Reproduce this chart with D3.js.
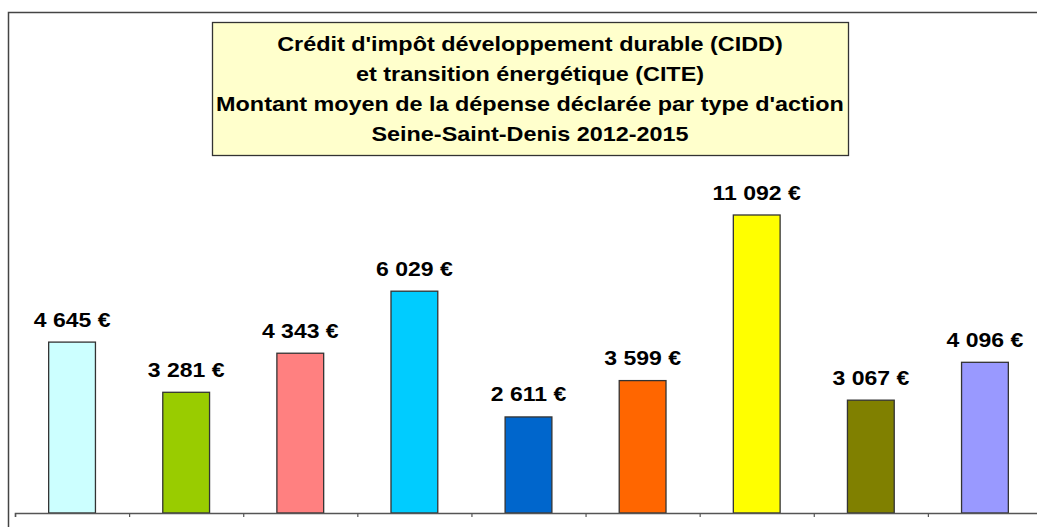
<!DOCTYPE html>
<html>
<head>
<meta charset="utf-8">
<script src="https://cdn.jsdelivr.net/npm/d3@7"></script>
<style>
  html, body { margin: 0; padding: 0; background: #fff; }
  svg { display: block; font-family: "Liberation Sans", Arial, sans-serif; }
</style>
</head>
<body>
<svg id="chart"></svg>
<script>
// data
let categories = ["Action 1", "Action 2", "Action 3", "Action 4", "Action 5", "Action 6", "Action 7", "Action 8", "Action 9"];
let values = [4645, 3281, 4343, 6029, 2611, 3599, 11092, 3067, 4096];
let colors = ["#CCFFFF", "#99CC00", "#FF8080", "#00CCFF", "#0066CC", "#FF6600", "#FFFF00", "#808000", "#9999FF"];
let titleLines = [
  "Crédit d'impôt développement durable (CIDD)",
  "et transition énergétique (CITE)",
  "Montant moyen de la dépense déclarée par type d'action",
  "Seine-Saint-Denis 2012-2015"
];

let width = 1037, height = 527;
let stretch = 1.15;      // value labels look wider than plain Arial
let titleStretch = 1.2;

let svg = d3.select("#chart").attr("width", width).attr("height", height);

// outer frame (cropped on right / bottom)
svg.append("path")
  .attr("d", "M8.5," + height + "V12.5H" + width)
  .attr("fill", "none")
  .attr("stroke", "#444")
  .attr("stroke-width", 1.5);

let x = d3.scaleBand()
  .domain(categories)
  .range([15, 1042])
  .paddingInner(0.59)
  .paddingOuter(0.295);

let y = d3.scaleLinear()
  .domain([0, 8100])
  .range([513, 215])
  .clamp(true);

// bars
svg.append("g")
  .selectAll("rect")
  .data(values)
  .enter().append("rect")
  .attr("x", (d, i) => x(categories[i]))
  .attr("y", d => y(d))
  .attr("width", x.bandwidth())
  .attr("height", d => y(0) - y(d))
  .attr("fill", (d, i) => colors[i])
  .attr("stroke", "#333")
  .attr("stroke-width", 1.3);

// value labels
svg.append("g")
  .selectAll("text")
  .data(values)
  .enter().append("text")
  .attr("transform", (d, i) => "translate(" + (x(categories[i]) + x.bandwidth() / 2) + "," + (y(d) - 15.5) + ") scale(" + stretch + ",1)")
  .attr("text-anchor", "middle")
  .attr("font-size", "20px")
  .attr("font-weight", "bold")
  .attr("fill", "#000")
  .text(d => d3.format(",")(d).replace(/,/g, " ") + " €");

// x axis: ticks between categories
let edges = d3.scaleLinear().domain([0, categories.length]).range([15, 1042]);
let xAxis = svg.append("g")
  .attr("transform", "translate(0,513)")
  .call(d3.axisBottom(edges).ticks(categories.length).tickSize(4).tickFormat(""));
xAxis.select(".domain").attr("stroke", "#555").attr("stroke-width", 1.5);
xAxis.selectAll(".tick line").attr("stroke", "#555").attr("stroke-width", 1.2);

// title box
let title = svg.append("g");
title.append("rect")
  .attr("x", 212.5).attr("y", 22.5)
  .attr("width", 636).attr("height", 133)
  .attr("fill", "#FFFFCC")
  .attr("stroke", "#333")
  .attr("stroke-width", 1.3);

title.selectAll("text")
  .data(titleLines)
  .enter().append("text")
  .attr("transform", (d, i) => "translate(530," + (51 + i * 30) + ") scale(" + titleStretch + ",1)")
  .attr("text-anchor", "middle")
  .attr("font-size", "19.5px")
  .attr("font-weight", "bold")
  .attr("fill", "#000")
  .text(d => d);
</script>
</body>
</html>
